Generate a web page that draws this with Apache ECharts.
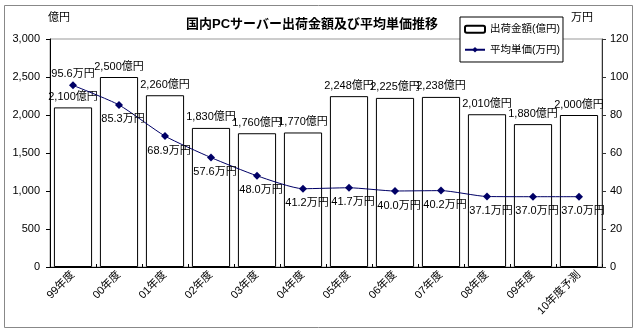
<!DOCTYPE html>
<html>
<head>
<meta charset="utf-8">
<script src="https://cdn.jsdelivr.net/npm/echarts@6/dist/echarts.min.js"></script>
<style>
html,body{margin:0;padding:0;background:#fff;}
#c{width:640px;height:334px;}
</style>
</head>
<body>
<div id="c"></div>
<script>
const categories = ['99年度','00年度','01年度','02年度','03年度','04年度','05年度','06年度','07年度','08年度','09年度','10年度予測'];
const shipmentValues = [2100, 2500, 2260, 1830, 1760, 1770, 2248, 2225, 2238, 2010, 1880, 2000];
const unitPriceValues = [95.6, 85.3, 68.9, 57.6, 48.0, 41.2, 41.7, 40.0, 40.2, 37.1, 37.0, 37.0];
const leftTicks = [0, 500, 1000, 1500, 2000, 2500, 3000];
const rightTicks = [0, 20, 40, 60, 80, 100, 120];
const seriesNames = ['出荷金額(億円)', '平均単価(万円)'];
const titleText = '国内PCサーバー出荷金額及び平均単価推移';

const FONT = '"Liberation Sans", "Noto Sans CJK JP", sans-serif';
const fmt = v => String(v).replace(/\B(?=(\d{3})+(?!\d))/g, ',');

const chart = echarts.init(document.getElementById('c'), null, {renderer: 'canvas'});
chart.setOption({
  backgroundColor: '#fff',
  animation: false,
  textStyle: {fontFamily: FONT},
  title: {
    text: titleText, left: 307, top: 13, textAlign: 'center',
    textStyle: {fontSize: 13, fontWeight: 'bold', color: '#000', fontFamily: FONT}
  },
  legend: {
    orient: 'vertical', left: 460, top: 17,
    data: seriesNames,
    backgroundColor: '#fff', borderColor: '#000', borderWidth: 1,
    padding: [7, 3, 7, 4], itemGap: 10, itemWidth: 20, itemHeight: 7,
    textStyle: {fontSize: 10.5, color: '#000', fontFamily: FONT}
  },
  grid: {left: 50, right: 38, top: 39, bottom: 67, show: true, borderColor: '#999', borderWidth: 1},
  graphic: [
    {type: 'rect', shape: {x: 4.5, y: 5.5, width: 628, height: 322}, style: {fill: 'none', stroke: '#888', lineWidth: 1}, z: -1},
    {type: 'text', left: 48, top: 12, style: {text: '億円', fontSize: 11, fontFamily: FONT, fill: '#000'}},
    {type: 'text', left: 571, top: 12, style: {text: '万円', fontSize: 11, fontFamily: FONT, fill: '#000'}}
  ],
  xAxis: {
    type: 'category', data: categories,
    axisLine: {lineStyle: {color: '#000', width: 1}},
    axisTick: {show: true, inside: true, length: 3, lineStyle: {color: '#000'}},
    axisLabel: {rotate: 45, fontSize: 11, color: '#000', margin: 6, fontFamily: FONT}
  },
  yAxis: [
    {
      type: 'value', min: 0, max: 3000, interval: 500,
      axisLine: {show: true, lineStyle: {color: '#000'}},
      axisTick: {show: true, length: 4, lineStyle: {color: '#000'}},
      splitLine: {show: false},
      axisLabel: {fontSize: 11, color: '#000', margin: 10, fontFamily: FONT,
        formatter: v => leftTicks.includes(v) ? fmt(v) : ''}
    },
    {
      type: 'value', min: 0, max: 120, interval: 20, position: 'right',
      axisLine: {show: true, lineStyle: {color: '#333'}},
      axisTick: {show: true, length: 4, lineStyle: {color: '#333'}},
      splitLine: {show: false},
      axisLabel: {fontSize: 11, color: '#000', margin: 8, fontFamily: FONT,
        formatter: v => rightTicks.includes(v) ? String(v) : ''}
    }
  ],
  series: [
    {
      name: seriesNames[0], type: 'bar', yAxisIndex: 0,
      data: shipmentValues,
      barCategoryGap: '17%',
      itemStyle: {color: '#fff', borderColor: '#000', borderWidth: 1},
      label: {show: true, position: 'top', distance: 5, fontSize: 11, color: '#000', fontFamily: FONT,
        formatter: p => fmt(p.value) + '億円'}
    },
    {
      name: seriesNames[1], type: 'line', yAxisIndex: 1,
      data: unitPriceValues.map((v, i) => i === 0 ? {value: v, label: {position: 'top', distance: 2, offset: [0, 0]}} : v),
      smooth: 0.2,
      symbol: 'diamond', symbolSize: 8,
      lineStyle: {color: '#000066', width: 1},
      itemStyle: {color: '#000066'},
      label: {show: true, position: 'bottom', distance: 5, offset: [4, 0], fontSize: 11, color: '#000', fontFamily: FONT,
        formatter: p => p.value.toFixed(1) + '万円'},
      z: 5
    }
  ]
});
</script>
</body>
</html>
